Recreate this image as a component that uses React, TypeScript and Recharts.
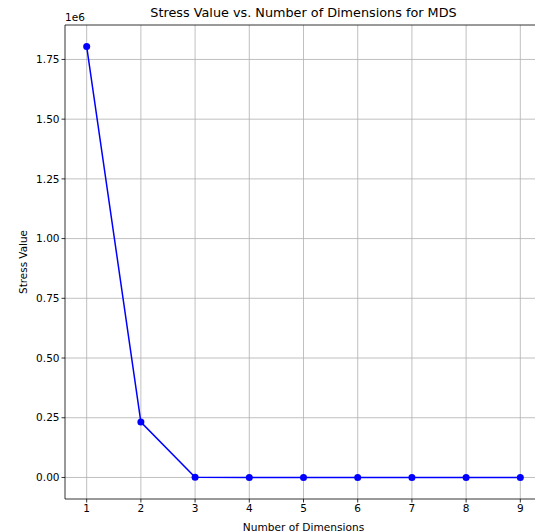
import React from "react";
import { LineChart, Line, XAxis, YAxis, CartesianGrid, ReferenceLine } from "recharts";

const dimensions = [1, 2, 3, 4, 5, 6, 7, 8, 9];
const stressValues = [1804000, 232000, 800, 300, 200, 150, 100, 80, 60];
const xTicks = [1, 2, 3, 4, 5, 6, 7, 8, 9];
const yTicks = [0, 250000, 500000, 750000, 1000000, 1250000, 1500000, 1750000];

const data = dimensions.map((d, i) => ({ dim: d, stress: stressValues[i] }));

const FONT = "'DejaVu Sans', sans-serif";
const Y_MIN = -90200;
const Y_MAX = 1894200;

export default function App() {
  return (
    <div style={{ position: "absolute", left: 0, top: 0, width: 535, height: 532, overflow: "hidden", background: "#fff", fontFamily: FONT }}>
      <div style={{ position: "absolute", left: 0, width: 607, top: 5, textAlign: "center", fontSize: 12.8, color: "#000", lineHeight: "16px" }}>
        Stress Value vs. Number of Dimensions for MDS
      </div>
      <div style={{ position: "absolute", left: 65, top: 11, fontSize: 10.5, color: "#000", lineHeight: "13px" }}>1e6</div>
      <LineChart width={542} height={532} data={data} margin={{ top: 25, right: 0, left: 0, bottom: 0 }} style={{ fontFamily: FONT }}>
        <CartesianGrid stroke="#b0b0b0" strokeWidth={0.8} horizontalValues={yTicks} verticalValues={xTicks} />
        <XAxis
          dataKey="dim"
          type="number"
          domain={[0.6, 9.4]}
          ticks={xTicks}
          allowDataOverflow
          height={33}
          tickSize={3.5}
          tickLine={{ stroke: "#000", strokeWidth: 0.8 }}
          axisLine={{ stroke: "#000", strokeWidth: 0.8 }}
          tick={{ fill: "#000", fontSize: 10.5 }}
          tickMargin={2}
          label={{ value: "Number of Dimensions", position: "insideBottom", offset: 1, fill: "#000", fontSize: 10.6 }}
        />
        <YAxis
          type="number"
          domain={[Y_MIN, Y_MAX]}
          ticks={yTicks}
          allowDataOverflow
          width={65}
          tickSize={3.5}
          tickLine={{ stroke: "#000", strokeWidth: 0.8 }}
          axisLine={{ stroke: "#000", strokeWidth: 0.8 }}
          tick={{ fill: "#000", fontSize: 10.5 }}
          tickMargin={2}
          tickFormatter={(v: number) => (v / 1e6).toFixed(2)}
          label={{ value: "Stress Value", angle: -90, position: "insideLeft", offset: 23, fill: "#000", fontSize: 10.4, style: { textAnchor: "middle" } }}
        />
        <ReferenceLine y={Y_MAX} stroke="#000" strokeWidth={0.8} ifOverflow="extendDomain" />
        <Line
          type="linear"
          dataKey="stress"
          stroke="#0000ff"
          strokeWidth={1.5}
          dot={{ r: 3.5, fill: "#0000ff", stroke: "#0000ff", strokeWidth: 0 }}
          activeDot={false}
          isAnimationActive={false}
        />
      </LineChart>
    </div>
  );
}
